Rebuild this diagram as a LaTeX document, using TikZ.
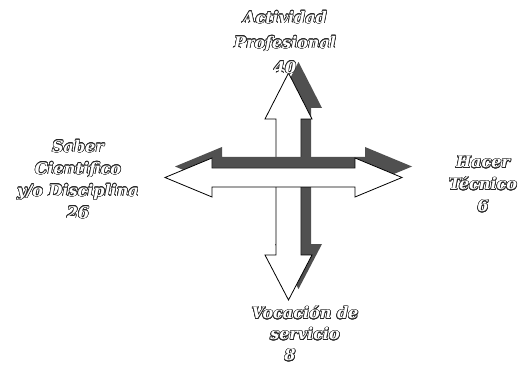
\documentclass[tikz,border=0pt]{standalone}
\usepackage{fontspec}
\setmainfont{DejaVu Serif}
\usepackage{contour}
\contourlength{0.6pt}
\definecolor{shade}{HTML}{505050}
\definecolor{ink}{HTML}{262626}
\newcommand{\olt}[1]{\contour{ink}{#1}}
\begin{document}
\begin{tikzpicture}[x=1pt,y=-1pt,
  arrowbody/.style={draw=black,line width=0.8pt,fill=white,line join=miter},
  arrowshade/.style={fill=shade,draw=none},
  lbl/.style={inner sep=0pt,anchor=north,align=center,text=white,
    font=\bfseries\itshape\fontsize{16}{22}\selectfont},
  lbltop/.style={lbl,font=\bfseries\itshape\fontsize{16}{25}\selectfont},
  lblbot/.style={lbl,font=\bfseries\itshape\fontsize{16}{21}\selectfont}]
\useasboundingbox (0,0) rectangle (527,366);
% vertical and horizontal double arrows
\def\vpath{(288.5,73) -- (312,119) -- (301,119) -- (301,255) -- (312,255) -- (288.5,300) -- (265,255) -- (276,255) -- (276,119) -- (265,119) -- cycle}
\def\hpath{(165,177.5) -- (212,158) -- (212,168) -- (355,168) -- (355,158) -- (402,177.5) -- (355,197) -- (355,187) -- (212,187) -- (212,197) -- cycle}
\fill[arrowshade,shift={(10,-11)}] \vpath;
\draw[arrowbody] \vpath;
\fill[arrowshade,shift={(10,-11)}] \hpath;
\draw[arrowbody] \hpath;
% labels
\node[lbltop] (top) at (285,11) {\olt{Actividad}\\\olt{Profesional}\\\olt{40}};
\node[lbl] (left) at (78,140) {\olt{Saber}\\\olt{Cientifico}\\\olt{y/o Disciplina}\\\olt{26}};
\node[lbl] (right) at (483,156) {\olt{Hacer}\\\olt{Técnico}\\\olt{6}};
\node[lblbot] (bottom) at (305,306) {\olt{Vocación de}\\\olt{servicio}\\\mbox{\olt{8}\hspace{30pt}}};
\end{tikzpicture}
\end{document}
